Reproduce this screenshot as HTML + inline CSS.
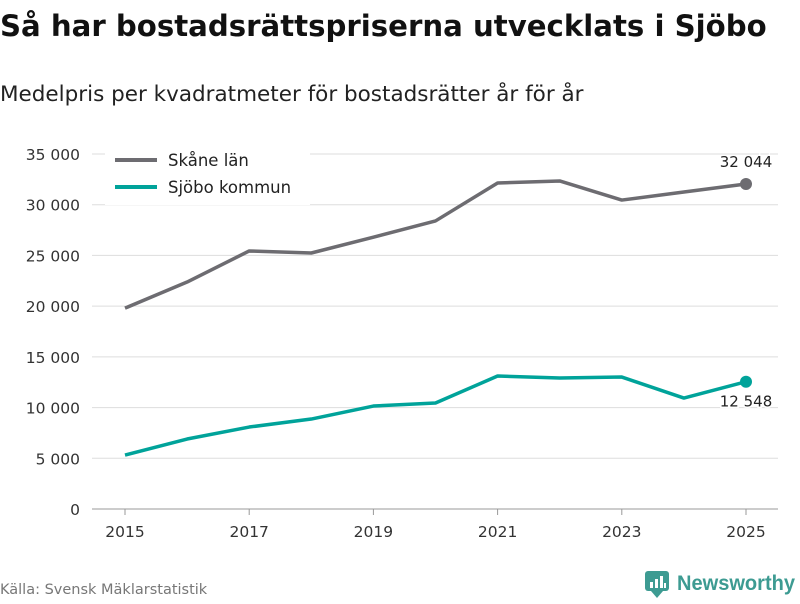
<!DOCTYPE html>
<html><head><meta charset="utf-8"><style>
body{margin:0;width:800px;height:600px;background:#fff;font-family:"DejaVu Sans","Liberation Sans",sans-serif;overflow:hidden}
</style></head><body>
<svg width="800" height="600" xmlns="http://www.w3.org/2000/svg">
<text x="0" y="36" font-size="29.2" font-weight="bold" fill="#111">Så har bostadsrättspriserna utvecklats i Sjöbo</text>
<text x="0" y="101" font-size="21.5" fill="#222">Medelpris per kvadratmeter för bostadsrätter år för år</text>
<g id="grid"></g><g id="xax"></g><g id="lines"></g>
<g>
<rect x="105" y="145" width="205" height="60" fill="#fff"/>
<line x1="115" y1="160" x2="157" y2="160" stroke="#6d6c71" stroke-width="4"/>
<text x="168" y="166" font-size="16.5" fill="#222">Skåne län</text>
<line x1="115" y1="187" x2="157" y2="187" stroke="#00a39a" stroke-width="4"/>
<text x="168" y="193" font-size="16.5" fill="#222">Sjöbo kommun</text>
</g>
<text x="0" y="594" font-size="14.5" fill="#777">Källa: Svensk Mäklarstatistik</text>
<g>
<rect x="645" y="571" width="24" height="20" rx="3" fill="#3d9b92"/>
<polygon points="651,591 663,591 657,598" fill="#3d9b92"/>
<rect x="650" y="582" width="3" height="6" fill="#fff"/><rect x="655" y="579" width="3" height="9" fill="#fff"/><rect x="660" y="576" width="3" height="12" fill="#fff"/><rect x="664" y="583" width="2" height="5" fill="#fff"/>
<text x="677" y="590" font-size="21" font-weight="bold" font-family="Liberation Sans, sans-serif" fill="#3d9b92" textLength="118" lengthAdjust="spacingAndGlyphs">Newsworthy</text>
</g>
</svg>
<script>
const years=[2015,2016,2017,2018,2019,2020,2021,2022,2023,2024,2025];
const skane=[19800,22380,25440,25240,26800,28400,32140,32340,30460,31250,32044];
const sjobo=[5320,6900,8080,8870,10150,10450,13110,12920,13010,10940,12548];
const yTicks=[0,5000,10000,15000,20000,25000,30000,35000];
const xTicks=[2015,2017,2019,2021,2023,2025];
const NS="http://www.w3.org/2000/svg";
const X=v=>125+(v-2015)*62.1, Y=v=>509-v/35000*355;
const fmt=v=>String(v).replace(/\B(?=(\d{3})+(?!\d))/g," ");
function mk(t,a,p){const e=document.createElementNS(NS,t);for(const k in a)e.setAttribute(k,a[k]);p.appendChild(e);return e;}
const g=document.getElementById('grid');
yTicks.forEach(v=>{
 const l=mk('line',{x1:92,x2:778,y1:Y(v),y2:Y(v),stroke:v===0?'#999':'#ddd','stroke-width':1},g);
 
 
 const t=mk('text',{x:80,y:Y(v)+6,'text-anchor':'end','font-size':15.5,fill:'#333'},g);t.textContent=fmt(v);
 
 
});
const xa=document.getElementById('xax');
xTicks.forEach(v=>{
 mk('line',{x1:X(v),x2:X(v),y1:509,y2:515,stroke:'#999'},xa);
 const t=mk('text',{x:X(v),y:537,'text-anchor':'middle','font-size':15.5,fill:'#333'},xa);t.textContent=v;
 
 
});
const L=document.getElementById('lines');
[[skane,'#6d6c71','skane',-22],[sjobo,'#00a39a','sjobo',20]].forEach(([d,c,n,off])=>{
 const p=mk('polyline',{points:d.map((v,i)=>X(years[i])+','+Y(v)).join(' '),fill:'none',stroke:c,'stroke-width':3.5,'stroke-linejoin':'round'},L);
 
 
 const last=d.length-1;
 const dot=mk('circle',{cx:X(years[last]),cy:Y(d[last]),r:6,fill:c},L);
 
 
 const t=mk('text',{x:X(years[last]),y:Y(d[last])+off+5,'text-anchor':'middle','font-size':15,fill:'#222',stroke:'#fff','stroke-width':3,'paint-order':'stroke'},L);
 t.textContent=fmt(d[last]);
 
 
});
</script>
</body></html>
